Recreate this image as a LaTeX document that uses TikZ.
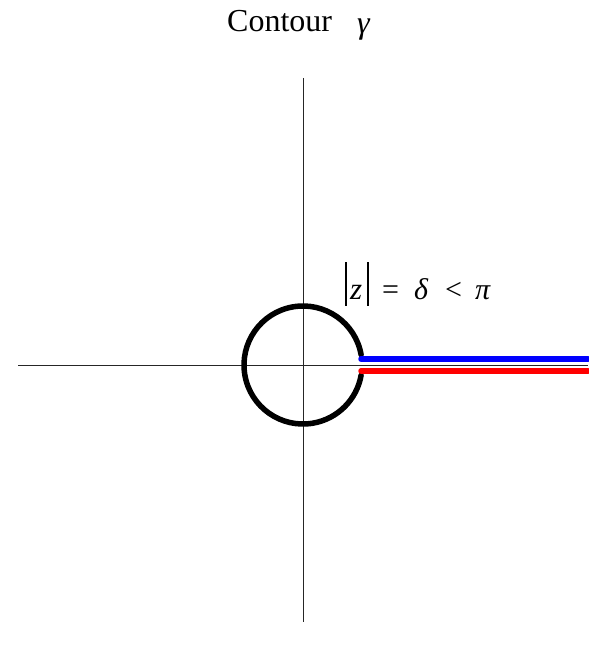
\documentclass[tikz,border=0pt]{standalone}
\usepackage{fontspec}
\setmainfont{Liberation Serif}
\begin{document}
\begin{tikzpicture}[x=1pt,y=-1pt,
  axis/.style={draw=black!85,line width=0.8pt},
  thick curve/.style={line width=5.5pt,line cap=round},
  absbar/.style={draw=black,line width=1.3pt},
  lbl/.style={inner sep=0pt,anchor=base west,font=\fontsize{30}{36}\selectfont}]
\useasboundingbox (0,0) rectangle (588,652);
% axes
\coordinate (xl) at (18,365);
\coordinate (xr) at (588,365);
\coordinate (yt) at (303,78);
\coordinate (yb) at (303,622);
\draw[axis] (xl) -- (xr);
\draw[axis] (yt) -- (yb);
% circle with gap
\coordinate (O) at (303,365);
\draw[thick curve,black] ([shift={(-10:59)}]O) arc[start angle=-10,end angle=-350,radius=59];
% branch cut lines
\coordinate (b1) at (361,359);
\coordinate (b2) at (588,359);
\coordinate (r1) at (361,371);
\coordinate (r2) at (588,371);
\draw[thick curve,blue] (b1) -- (b2);
\draw[thick curve,red] (r1) -- (r2);
% title
\node[inner sep=0pt,anchor=base west,font=\fontsize{32}{38}\selectfont] (title) at (227,32) {Contour};
\node[lbl,font=\fontsize{32}{38}\selectfont\itshape] (gam) at (357,34) {γ};
% label
\coordinate (a1t) at (346,262);
\coordinate (a1b) at (346,306);
\coordinate (a2t) at (368,262);
\coordinate (a2b) at (368,306);
\draw[absbar] (a1t) -- (a1b);
\draw[absbar] (a2t) -- (a2b);
\node[lbl,font=\fontsize{31}{36}\selectfont\itshape] (zz) at (350,299) {z};
\node[lbl] (eq) at (382,299) {=};
\node[lbl,font=\fontsize{30}{36}\selectfont\itshape] (dl) at (414,299) {δ};
\node[lbl] (lt) at (445,299) {<};
\node[lbl,font=\fontsize{30}{36}\selectfont\itshape] (pp) at (475,299) {π};
\end{tikzpicture}
\end{document}
